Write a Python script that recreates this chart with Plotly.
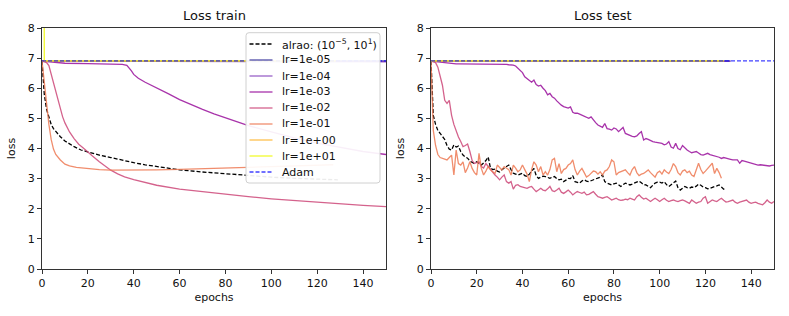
import plotly.graph_objects as go

# ---------------- DATA ----------------
labels = ["alrao: (10<sup>\u22125</sup>, 10<sup>1</sup>)", "lr=1e-05", "lr=1e-04", "lr=1e-03",
          "lr=1e-02", "lr=1e-01", "lr=1e+00", "lr=1e+01", "Adam"]

# train (smooth curves, read at selected epochs)
tr_alrao_x = [0, 1, 2, 3, 4, 5, 6, 8, 10, 12, 14, 17, 20, 25, 30, 35, 40, 45, 50, 55, 60, 70, 80, 90, 100, 110, 120, 129]
tr_alrao_y = [6.9, 5.8, 5.3, 5.0, 4.8, 4.66, 4.56, 4.39, 4.25, 4.15, 4.06, 3.95, 3.88, 3.78, 3.70, 3.61, 3.53, 3.46, 3.40, 3.34, 3.29, 3.22, 3.16, 3.09, 3.05, 3.01, 2.98, 2.96]

tr_lr5_x = [0, 150]
tr_lr5_y = [6.91, 6.91]
tr_lr4_x = [0, 10, 50, 100, 150]
tr_lr4_y = [6.91, 6.90, 6.89, 6.88, 6.88]
tr_lr3_x = [0, 2, 5, 10, 20, 30, 35, 37, 38, 39, 40, 42, 45, 50, 55, 60, 65, 70, 75, 80, 85, 90, 100, 110, 120, 130, 140, 150]
tr_lr3_y = [6.9, 6.89, 6.86, 6.83, 6.82, 6.81, 6.79, 6.76, 6.68, 6.58, 6.46, 6.33, 6.2, 6.02, 5.82, 5.62, 5.45, 5.3, 5.15, 5.02, 4.9, 4.76, 4.55, 4.35, 4.18, 4.03, 3.9, 3.8]
tr_lr2_x = [0, 1, 2, 3, 4, 5, 6, 7, 8, 9, 10, 11, 12, 14, 16, 18, 20, 22, 25, 28, 30, 33, 36, 40, 50, 60, 70, 80, 90, 100, 110, 120, 130, 140, 150]
tr_lr2_y = [6.9, 6.88, 6.85, 6.75, 6.45, 6.15, 5.85, 5.55, 5.3, 5.05, 4.85, 4.68, 4.55, 4.33, 4.14, 4.02, 3.9, 3.75, 3.56, 3.38, 3.28, 3.16, 3.06, 2.97, 2.78, 2.65, 2.56, 2.48, 2.40, 2.33, 2.27, 2.21, 2.16, 2.11, 2.07]
tr_lr1_x = [0, 1, 2, 3, 4, 5, 6, 7, 8, 10, 12, 15, 20, 25, 30, 40, 50, 60, 70, 80, 90, 100, 110, 120, 127]
tr_lr1_y = [6.9, 6.15, 5.4, 4.8, 4.3, 3.98, 3.8, 3.7, 3.62, 3.48, 3.42, 3.37, 3.33, 3.3, 3.28, 3.28, 3.29, 3.31, 3.33, 3.36, 3.39, 3.41, 3.43, 3.45, 3.46]
tr_lr0_x = [0, 128]
tr_lr0_y = [6.91, 6.91]
tr_lr10_x = [0, 1, 128]
tr_lr10_y = [60.0, 6.91, 6.91]
tr_adam_x = [0, 150]
tr_adam_y = [6.91, 6.91]

# test (noisy curves, one value per epoch)
te_alrao_y = [6.9, 5.1, 4.8, 4.6, 4.5, 4.38, 4.3, 4.1, 3.98, 3.95,
              4.12, 4.05, 4.08, 3.9, 3.78, 3.72, 3.68, 3.58, 3.55, 3.5,
              3.56, 3.5, 3.45, 3.52, 3.6, 3.72, 3.35, 3.3, 3.32, 3.25,
              3.22, 3.3, 3.35, 3.42, 3.45, 3.3, 3.18, 3.15, 3.12, 3.15,
              3.18, 3.1, 3.07, 3.15, 3.25, 3.34, 3.1, 3.01, 3.05, 3.08,
              3.07, 3.04, 3.01, 3.05, 3.07, 3.0, 2.96, 2.98, 2.9, 2.95,
              3.01, 3.0, 3.1, 2.9, 2.88, 2.85, 2.92, 2.96, 2.92, 2.9,
              2.93, 2.96, 2.98, 3.01, 3.05, 3.12, 2.9, 2.85, 2.82, 2.79,
              2.83, 2.85, 2.8, 2.74, 2.8, 2.85, 2.82, 2.79, 2.82, 2.85,
              2.88, 2.92, 2.86, 2.8, 2.79, 2.74, 2.7, 2.78, 2.85, 2.88,
              2.88, 2.85, 2.9, 2.8, 2.74, 2.8, 2.85, 2.92, 2.7, 2.62,
              2.68, 2.74, 2.7, 2.68, 2.72, 2.7, 2.75, 2.82, 2.78, 2.72,
              2.7, 2.66, 2.68, 2.72, 2.74, 2.76, 2.79, 2.72, 2.65, 2.62]
te_lr1_y = [6.9, 4.6, 4.1, 3.8, 3.7, 3.67, 3.64, 3.62, 3.7, 3.78,
            3.12, 3.95, 3.5, 3.45, 3.56, 3.2, 3.35, 3.56, 3.34, 3.2,
            3.12, 3.84, 3.34, 3.12, 3.25, 3.4, 3.29, 3.22, 3.17, 3.45,
            3.35, 3.29, 3.4, 3.34, 3.3, 3.12, 3.45, 3.35, 3.23, 3.29,
            3.45, 3.3, 3.15, 2.9, 3.3, 3.56, 3.45, 3.23, 3.4, 3.12,
            3.23, 3.12, 3.3, 3.62, 3.67, 3.23, 3.5, 3.17, 3.3, 3.34,
            3.45, 3.5, 3.62, 3.3, 3.12, 3.25, 3.34, 3.2, 3.05, 3.1,
            3.17, 3.25, 3.23, 3.15, 3.23, 3.12, 3.25, 3.29, 3.4, 3.62,
            3.56, 3.12, 3.2, 3.23, 3.26, 3.29, 3.2, 3.12, 3.3, 3.4,
            3.2, 3.1, 3.15, 3.17, 3.23, 3.29, 3.2, 3.12, 3.05, 3.2,
            3.25, 3.15, 3.29, 3.22, 3.17, 3.3, 3.5, 3.4, 3.2, 3.12,
            3.25, 3.29, 3.2, 3.25, 3.12, 3.07, 3.3, 3.51, 3.3, 3.17,
            3.25, 3.34, 3.45, 3.51, 3.17, 3.34, 3.2, 3.01]
te_lr2_y = [6.9, 6.87, 6.85, 6.7, 6.38, 6.1, 5.6, 5.5, 5.6, 5.1,
            4.8, 4.55, 4.38, 4.23, 4.06, 4.1, 4.15, 3.9, 3.6, 3.5,
            3.53, 3.56, 3.4, 3.35, 3.5, 3.4, 3.29, 3.2, 3.12, 3.05,
            2.96, 3.05, 3.12, 2.9, 2.85, 2.9, 2.65, 2.78, 2.8, 2.74,
            2.72, 2.7, 2.68, 2.72, 2.74, 2.65, 2.57, 2.62, 2.68, 2.62,
            2.6, 2.66, 2.74, 2.6, 2.57, 2.62, 2.68, 2.55, 2.51, 2.56,
            2.62, 2.55, 2.46, 2.52, 2.57, 2.54, 2.51, 2.55, 2.46, 2.48,
            2.52, 2.57, 2.48, 2.4, 2.38, 2.35, 2.38, 2.4, 2.35, 2.29,
            2.32, 2.35, 2.3, 2.28, 2.29, 2.32, 2.3, 2.35, 2.32, 2.29,
            2.4, 2.46, 2.38, 2.32, 2.35, 2.3, 2.24, 2.3, 2.35, 2.3,
            2.24, 2.3, 2.35, 2.28, 2.24, 2.27, 2.29, 2.26, 2.24, 2.27,
            2.29, 2.26, 2.22, 2.18, 2.29, 2.22, 2.18, 2.22, 2.24, 2.35,
            2.4, 2.18, 2.24, 2.29, 2.26, 2.24, 2.3, 2.35, 2.28, 2.22,
            2.24, 2.27, 2.29, 2.22, 2.18, 2.22, 2.24, 2.27, 2.29, 2.22,
            2.18, 2.2, 2.22, 2.18, 2.16, 2.13, 2.2, 2.29, 2.22, 2.18,
            2.24]
te_lr3_y = [6.9, 6.89, 6.88, 6.87, 6.86, 6.85, 6.84, 6.83, 6.83, 6.82,
            6.82, 6.81, 6.81, 6.81, 6.81, 6.81, 6.81, 6.81, 6.81, 6.81,
            6.81, 6.8, 6.8, 6.8, 6.8, 6.8, 6.8, 6.8, 6.8, 6.8,
            6.8, 6.79, 6.79, 6.79, 6.78, 6.78, 6.77, 6.74, 6.66, 6.6,
            6.52, 6.38, 6.33, 6.27, 6.2, 6.27, 6.12, 6.07, 6.1, 6.0,
            5.92, 5.78, 5.83, 5.72, 5.67, 5.58, 5.5, 5.44, 5.39, 5.36,
            5.34, 5.38, 5.2, 5.17, 5.17, 5.14, 5.1, 5.06, 5.02, 5.0,
            5.05, 4.94, 4.86, 4.78, 4.75, 4.7, 4.83, 4.66, 4.64, 4.61,
            4.68, 4.65, 4.56, 4.62, 4.7, 4.5, 4.46, 4.44, 4.4, 4.39,
            4.42, 4.5, 4.56, 4.28, 4.33, 4.3, 4.26, 4.23, 4.21, 4.19,
            4.18, 4.17, 4.12, 4.15, 4.23, 4.05, 4.01, 4.17, 4.0, 3.96,
            4.1, 4.01, 3.95, 3.9, 3.86, 3.88, 3.9, 3.85, 3.8, 3.78,
            3.82, 3.84, 3.8, 3.78, 3.76, 3.73, 3.71, 3.67, 3.7, 3.68,
            3.67, 3.64, 3.62, 3.63, 3.62, 3.51, 3.6, 3.58, 3.56, 3.55,
            3.51, 3.5, 3.48, 3.45, 3.46, 3.45, 3.44, 3.43, 3.42, 3.44,
            3.45]
te_lr5_x = [0, 131]
te_lr5_y = [6.91, 6.91]
te_lr4_x = [0, 10, 60, 131]
te_lr4_y = [6.91, 6.90, 6.89, 6.89]
te_lr0_x = [0, 128]
te_lr0_y = [6.91, 6.91]
te_lr10_x = [0, 128]
te_lr10_y = [6.91, 6.91]
te_adam_x = [0, 150]
te_adam_y = [6.91, 6.91]

colors = ["#000000", "rgba(13,8,135,0.72)", "rgba(92,1,166,0.62)", "rgba(156,23,158,0.88)",
          "rgba(204,71,120,0.85)", "rgba(237,121,83,0.85)", "rgba(253,180,47,0.85)",
          "rgba(240,249,33,0.95)", "rgba(0,0,255,0.75)"]
dashes = ["4px,2px", "solid", "solid", "solid", "solid", "solid", "solid", "solid", "4px,2px"]

train_sets = [
    (tr_alrao_x, tr_alrao_y), (tr_lr5_x, tr_lr5_y), (tr_lr4_x, tr_lr4_y), (tr_lr3_x, tr_lr3_y),
    (tr_lr2_x, tr_lr2_y), (tr_lr1_x, tr_lr1_y), (tr_lr0_x, tr_lr0_y), (tr_lr10_x, tr_lr10_y),
    (tr_adam_x, tr_adam_y)]
test_sets = [
    (list(range(len(te_alrao_y))), te_alrao_y), (te_lr5_x, te_lr5_y), (te_lr4_x, te_lr4_y),
    (list(range(len(te_lr3_y))), te_lr3_y), (list(range(len(te_lr2_y))), te_lr2_y),
    (list(range(len(te_lr1_y))), te_lr1_y), (te_lr0_x, te_lr0_y), (te_lr10_x, te_lr10_y),
    (te_adam_x, te_adam_y)]

# ---------------- FIGURE ----------------
W, H = 789, 316
ML, MR, MT, MB = 42, 15, 28, 47
PW, PH = W - ML - MR, H - MT - MB


def px(X):
    return (X - ML) / PW


def py(Y):
    return 1 - (Y - MT) / PH


fig = go.Figure()
for k, (sets, xa, ya) in enumerate([(train_sets, "x", "y"), (test_sets, "x2", "y2")]):
    for i, (xs, ys) in enumerate(sets):
        fig.add_trace(go.Scatter(
            x=xs, y=ys, mode="lines", name=labels[i],
            line=dict(color=colors[i], width=1.3, dash=dashes[i]),
            xaxis=xa, yaxis=ya, showlegend=False, hoverinfo="skip"))

axis_common = dict(range=[0, 150], tickvals=[0, 20, 40, 60, 80, 100, 120, 140],
                   showgrid=False, zeroline=False, showline=True, mirror=True, automargin=False,
                   linecolor="#333333", linewidth=1.2, ticks="outside", ticklen=4,
                   tickcolor="#333333", tickfont=dict(size=11, color="#111111"),
                   title=dict(text="epochs", font=dict(size=11, color="#111111"), standoff=4))
yaxis_common = dict(range=[0, 8], tickvals=list(range(9)),
                    showgrid=False, zeroline=False, showline=True, mirror=True, automargin=False,
                    linecolor="#333333", linewidth=1.2, ticks="outside", ticklen=4,
                    tickcolor="#333333", tickfont=dict(size=11, color="#111111"),
                    title=dict(text="loss", font=dict(size=11, color="#111111"), standoff=9))

# custom legend (box, samples, labels) in the left panel
shapes = []
annotations = []
bx0, bx1, by0, by1, r = 246, 380, 32.7, 183, 3
rx, ry = r / PW, r / PH
path = (f"M {px(bx0)+rx},{py(by0)} L {px(bx1)-rx},{py(by0)} Q {px(bx1)},{py(by0)} {px(bx1)},{py(by0)-ry} "
        f"L {px(bx1)},{py(by1)+ry} Q {px(bx1)},{py(by1)} {px(bx1)-rx},{py(by1)} "
        f"L {px(bx0)+rx},{py(by1)} Q {px(bx0)},{py(by1)} {px(bx0)},{py(by1)+ry} "
        f"L {px(bx0)},{py(by0)-ry} Q {px(bx0)},{py(by0)} {px(bx0)+rx},{py(by0)} Z")
shapes.append(dict(type="path", path=path, xref="paper", yref="paper", layer="above",
                   fillcolor="rgba(255,255,255,0.92)", line=dict(color="#d0d0d0", width=1)))
for i, lab in enumerate(labels):
    Yc = 44 + 16 * i
    shapes.append(dict(type="line", xref="paper", yref="paper", layer="above",
                       x0=px(249.5), x1=px(272.5), y0=py(Yc), y1=py(Yc),
                       line=dict(color=colors[i], width=1.3, dash=dashes[i])))
    annotations.append(dict(text=lab, x=px(280), y=py(Yc), xref="paper", yref="paper",
                            xanchor="left", yanchor="middle", showarrow=False,
                            font=dict(size=11, color="#111111")))

annotations += [
    dict(text="Loss train", x=px(214), y=1.0, xref="paper", yref="paper", xanchor="center",
         yanchor="bottom", yshift=3, showarrow=False, font=dict(size=13, color="#111111")),
    dict(text="Loss test", x=px(602.5), y=1.0, xref="paper", yref="paper", xanchor="center",
         yanchor="bottom", yshift=3, showarrow=False, font=dict(size=13, color="#111111")),
]

fig.update_layout(
    width=W, height=H,
    margin=dict(l=ML, r=MR, t=MT, b=MB, autoexpand=False),
    paper_bgcolor="white", plot_bgcolor="white",
    font=dict(family="DejaVu Sans", size=11, color="#111111"),
    showlegend=False,
    xaxis=dict(domain=[0, px(386)], anchor="y", **axis_common),
    yaxis=dict(domain=[0, 1], anchor="x", **yaxis_common),
    xaxis2=dict(domain=[px(431), 1.0], anchor="y2", **axis_common),
    yaxis2=dict(domain=[0, 1], anchor="x2", **yaxis_common),
    shapes=shapes,
    annotations=annotations,
)

fig.write_html("out.html", config={"displayModeBar": False},
               post_script="document.body.style.margin='0';document.body.style.padding='0';")
